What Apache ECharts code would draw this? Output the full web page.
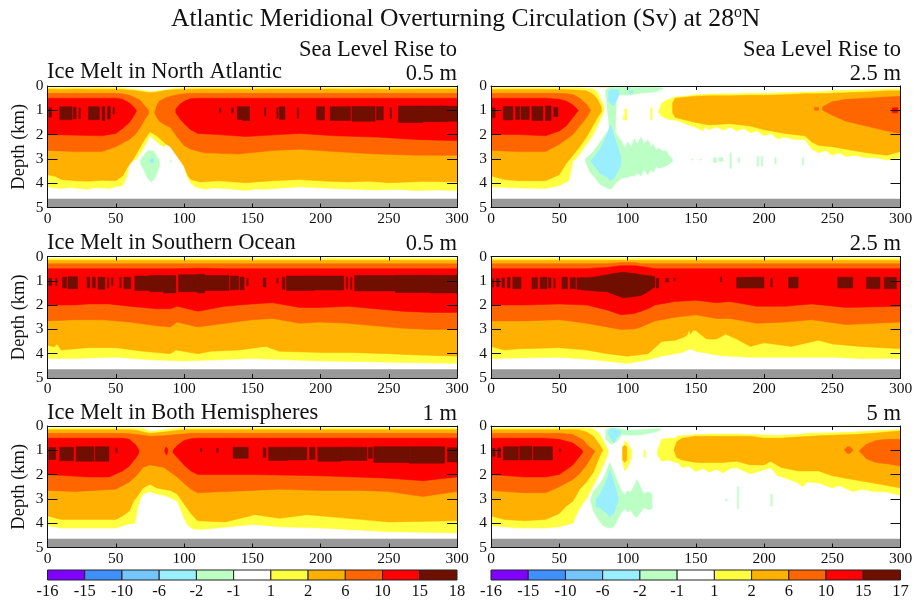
<!DOCTYPE html>
<html><head><meta charset="utf-8">
<style>html,body{margin:0;padding:0;background:#fff}#c{width:917px;height:601px}</style>
<script src="https://cdn.jsdelivr.net/npm/echarts@6/dist/echarts.min.js"></script>
</head><body><div id="c"></div>
<script>
// band colours, from colour-bar
const barColors=['#8000ff','#3f8fff','#73c6ff','#99eeff','#bbffc4','#ffffff','#ffff40','#ffb000','#ff6600','#ff0000','#700f00'];
const barLabelsL=['-16','-15','-10','-6','-2','-1','1','2','6','10','15','18'];
const barLabelsR=['-16','-15','-10','-6','-2','-1','1','2','6','10','15','17'];
const G1='#bbffc4',B2='#99eeff',Y1='#ffff40',O2='#ffb000',D6='#ff6600',R10='#ff0000',K15='#700f00';
const bottomBand=[[0,4.65,5],[300,4.65,5]];
// [x, top depth, bottom depth]
const a1=[[0,.07,4.15],[5,.07,4.2],[10,.07,4.22],[15,.06,4.18],[20,.06,4.2],[25,.07,4.23],[30,.07,4.24],[35,.06,4.19],[40,.06,4.2],[45,.07,4.22],[50,.07,4.15],[55,.08,4.1],[58,.1,3.75],[60,.12,3.2],[65,.14,3],[70,.18,2.6],[75,.23,2.05],[80,.2,2.3],[85,.16,2.5],[90,.12,2.3],[92,.1,2.6],[95,.09,2.8],[99,.08,3.05],[102,.07,3.7],[105,.07,4],[108,.06,4.15],[115,.06,4.25],[122,.06,4.2],[130,.06,4.22],[138,.06,4.26],[145,.07,4.3],[152,.06,4.24],[160,.06,4.25],[172,.06,4.2],[185,.06,4.15],[198,.06,4.19],[210,.07,4.22],[225,.06,4.25],[240,.06,4.28],[255,.06,4.26],[270,.06,4.3],[285,.06,4.28],[300,.06,4.3]];
const a2=[[0,.12,3.65],[6,.13,3.72],[10,.13,3.85],[15,.13,3.87],[20,.12,3.9],[30,.13,3.92],[40,.13,3.88],[50,.13,3.9],[55,.14,3.7],[58,.16,3.4],[63,.18,3],[65,.2,2.8],[70,.24,2.3],[75,.28,1.88],[80,.25,2.05],[87,.18,2.4],[90,.16,2.5],[95,.14,2.9],[100,.13,3.3],[103,.13,3.7],[105,.13,3.85],[112,.12,3.95],[125,.12,3.9],[145,.13,3.98],[165,.12,3.9],[185,.12,3.85],[205,.12,3.92],[220,.13,3.95],[235,.12,3.92],[250,.13,3.98],[275,.12,3.93],[300,.12,3.95]];
const a3=[[0,.3,2.65],[20,.3,2.7],[40,.3,2.7],[50,.3,2.5],[55,.32,2.35],[60,.38,2.2],[65,.5,1.95],[68,.6,1.7],[71,.8,1.4],[74,1,1.15]];
const a3b=[[78.5,1.1,1.1],[80,.8,1.3],[82,.62,1.45],[86,.5,1.6],[90,.42,1.7],[95,.36,2.1],[100,.32,2.45],[105,.3,2.6],[115,.3,2.75],[140,.3,2.8],[165,.3,2.65],[185,.3,2.6],[210,.3,2.7],[240,.3,2.8],[270,.3,2.85],[300,.3,2.85]];
const a4=[[0,.5,2],[40,.5,2.05],[50,.5,1.95],[55,.55,1.75],[60,.7,1.5],[63,.85,1.25],[65,1,1.05]];
const a4b=[[94,.95,1.1],[97,.75,1.35],[101,.6,1.6],[105,.52,1.8],[110,.5,1.95],[125,.5,2],[145,.5,2.08],[170,.5,2],[185,.5,1.95],[210,.5,2.05],[240,.5,2.1],[270,.5,2.2],[300,.5,2.25]];
const a5=[[1,3,.9,1.28],[9,18,.85,1.39],[19,21,.87,1.35],[23,24,.9,1.35],[30,38,.85,1.39],[40,42,.85,1.42],[44,46,.85,1.36],[48,49,.88,1.15],[126,127,.92,1.1],[135,136,.9,1.12],[139,143,.85,1.38],[143,148,.85,1.42],[159,160,.9,1.22],[168,169,.9,1.33],[170,174,.85,1.38],[183,184,.9,1.33],[197,203,.85,1.4],[207,222,.85,1.42],[223,240,.84,1.45],[241,246,.85,1.4],[251,252,.9,1.35],[257,275,.82,1.5],[275,293,.82,1.47],[293,300,.83,1.45]];
const aGreen=[[68,3.05,3.2],[70,2.9,3.4],[72,2.75,3.65],[74,2.65,3.85],[76,2.65,3.95],[78,2.7,3.85],[80,2.9,3.6],[82,3.05,3.3]];
const aBlue=[[75,3.05,3.1],[76,2.98,3.18],[78,3,3.15]];
const aSpeck=[[90,91,3.08,3.13]];

const b1=[[0,.07,4.15],[20,.07,4.2],[40,.07,4.22],[50,.07,4.1],[57,.07,3.9],[60,.07,3.1],[63,.07,2.95],[70,.1,2.4],[75,.12,2],[78,.25,1.65],[81,.6,1.3],[83,.9,1]];
const b2=[[0,.14,3.7],[10,.14,3.85],[20,.14,3.9],[40,.14,3.9],[50,.14,3.65],[55,.14,3.2],[60,.16,2.85],[65,.18,2.5],[70,.2,2.1],[75,.35,1.6],[78,.55,1.3],[81,.9,1.05]];
const b3=[[0,.3,2.65],[20,.3,2.7],[40,.3,2.7],[50,.3,2.4],[55,.32,2.2],[60,.35,2],[65,.5,1.65],[70,.75,1.3],[73,1,1]];
const b4=[[0,.5,2],[20,.5,2],[40,.5,2.05],[50,.55,1.85],[55,.62,1.65],[60,.78,1.3],[64,1,1]];
const b5=[[1,3,.9,1.3],[9,16,.84,1.4],[18,21,.85,1.38],[22,28,.85,1.38],[30,38,.84,1.42],[40,44,.82,1.42],[46,49,.87,1.25]];
const bTop1=[[75,0,.04],[90,0,.04]];
const bTop2=[[80,0,.03],[89,0,.03]];
const bR1=[[123,1,1.1],[125,.7,1.25],[130,.55,1.38],[135,.45,1.4],[140,.42,1.5],[145,.4,1.62],[150,.35,1.7],[155,.35,1.85],[157,.34,1.7],[160,.33,1.8],[165,.33,1.68],[170,.32,1.82],[175,.32,1.7],[180,.32,1.85],[185,.3,1.75],[190,.3,1.92],[195,.3,1.85],[200,.3,2.05],[205,.3,1.95],[210,.28,2.18],[215,.28,2.1],[222,.26,2.2],[230,.25,2.2],[235,.25,2.6],[240,.24,2.75],[245,.22,2.65],[250,.2,2.85],[255,.19,2.75],[260,.18,2.9],[266,.16,2.85],[275,.15,2.95],[282,.14,2.95],[290,.12,3.05],[300,.12,2.95]];
const bR2=[[133,.7,1.1],[135,.5,1.3],[150,.42,1.5],[160,.4,1.6],[175,.4,1.55],[190,.38,1.65],[200,.38,1.8],[215,.36,1.95],[230,.32,2.05],[235,.32,2.3],[240,.32,2.45],[250,.3,2.5],[260,.28,2.6],[275,.25,2.75],[290,.2,2.85],[300,.2,2.7]];
const bR3=[[243,.85,1],[250,.65,1.2],[260,.55,1.45],[275,.5,1.65],[290,.45,1.85],[300,.42,1.95]];
const bR3b=[[237,.88,1],[240,.88,1]];
const bR4=[[294,.9,1.1],[298,.9,1.1]];
const bBits=[[97,97.8,1.2,1.4],[98,99.5,.95,1.4],[117,118,.9,1.4]];
const bGreenTop=[[84,.15,.35],[87,.05,1.9],[91,.05,1.9],[92,.05,.35],[100,.05,.38],[110,.05,.3],[120,.05,.25],[126,.08,.12]];
const bBlueTop=[[86,.2,.6],[88,.15,.75],[90,.15,.8],[92,.15,.6],[94,.2,.35]];
const bBlueTop2=[[101,.2,.3],[104,.2,.3]];
const bGreenLow=[[69,3,3.1],[72,2.85,3.5],[75,2.7,3.7],[80,2.3,4.05],[85,1.9,4.2],[88,1.6,4.25],[92,2,3.95],[96,2.3,3.8],[98,2.55,3.75],[100,2.3,3.78],[103,2.5,3.68],[105,2.15,3.72],[107,2.4,3.58],[110,2.1,3.7],[112,2.4,3.45],[115,2.2,3.65],[117,2.5,3.45],[119,2.4,3.55],[121,2.65,3.3],[123,2.55,3.4],[126,2.7,3.32],[128,2.65,3.3],[131,2.9,3.2],[133,3,3.1]];
const bBlueLow=[[73,3.1,3.1],[75,2.95,3.25],[80,2.6,3.6],[85,2,3.75],[87.5,1.6,3.9],[90,2,3.8],[93,2.55,3.5],[95,2.9,3.3]];
const bStrips=[[147,148,3,3.05],[153,154,3,3.05],[163,165,2.95,3.15],[167,170,2.95,3.1],[175,176,2.75,3.4],[181,182,2.95,3.15],[195,196,2.9,3.3],[198,199,2.9,3.3],[208,209,2.95,3.2],[228,229,2.95,3.25]];

const c1=[[0,.07,4.2],[20,.07,4.2],[50,.07,4.15],[75,.07,4.25],[100,.07,4.3],[125,.07,4.25],[150,.07,4.2],[175,.07,4.25],[200,.07,4.3],[225,.07,4.32],[250,.07,4.35],[300,.07,4.4]];
const c2=[[0,.15,3.65],[5,.15,3.72],[7,.15,3.6],[10,.15,3.85],[20,.15,3.8],[30,.15,3.75],[50,.15,3.75],[70,.15,3.9],[90,.15,4],[94,.15,3.85],[110,.15,4],[120,.15,3.9],[140,.15,3.85],[160,.15,3.7],[170,.15,3.9],[200,.15,3.95],[220,.15,3.95],[250,.15,4],[270,.15,4.05],[300,.15,4.1]];
const c3=[[0,.3,2.65],[20,.3,2.6],[40,.3,2.6],[60,.3,2.7],[80,.3,2.85],[90,.3,2.9],[95,.3,2.7],[110,.3,2.9],[130,.3,2.75],[150,.3,2.6],[165,.3,2.55],[185,.3,2.75],[200,.3,2.7],[220,.3,2.75],[240,.3,2.85],[260,.3,2.95],[280,.3,3],[300,.3,3]];
const c4=[[0,.5,2],[20,.5,2],[30,.5,1.95],[45,.5,1.95],[60,.5,2.05],[80,.5,2.15],[90,.5,2.15],[95,.5,2.05],[110,.48,2.25],[130,.5,2.05],[150,.5,1.95],[165,.5,1.9],[185,.5,2.1],[200,.5,2.1],[220,.5,2.05],[240,.5,2.15],[260,.5,2.25],[280,.5,2.3],[300,.5,2.3]];
const c5=[[1,3,.9,1.2],[6,7,.9,1.2],[11,14,.85,1.3],[15,22,.83,1.33],[29,31,.85,1.3],[33,35,.85,1.3],[37,42,.85,1.35],[44,45,.88,1.3],[47,48,.88,1.2],[53,54,.85,1.3],[56,61,.85,1.33],[64,75,.8,1.4],[75,85,.78,1.45],[85,94,.78,1.5],[96,110,.75,1.45],[110,115,.73,1.5],[115,133,.78,1.4],[134,140,.8,1.37],[141,144,.85,1.37],[146,147,.9,1.2],[158,160,.88,1.25],[168,169,.9,1.1],[172,174,.85,1.35],[175,195,.8,1.4],[195,217,.8,1.38],[219,220,.85,1.35],[222,223,.85,1.35],[225,255,.78,1.42],[255,280,.77,1.48],[280,300,.77,1.5]];

const d1=[[0,.07,4.2],[50,.07,4.15],[75,.07,4.25],[100,.07,4.4],[115,.07,4.25],[125,.07,4.1],[140,.07,3.95],[146,.07,3.8],[150,.07,3.9],[165,.07,4.05],[175,.07,4.1],[190,.07,4.15],[210,.07,4.15],[250,.07,4.15],[270,.07,4.2],[300,.07,4.2]];
const d2=[[0,.15,3.7],[10,.15,3.85],[20,.15,3.8],[50,.15,3.75],[70,.15,3.85],[85,.15,4],[100,.15,4.1],[115,.15,4],[120,.15,3.75],[125,.15,3.5],[135,.15,3.45],[142,.15,3.3],[144,.15,3.2],[145,.15,3],[146,.15,3.2],[148,.15,3.05],[150,.15,3.05],[158,.15,3.4],[165,.15,3.4],[172,.15,3.2],[180,.15,3.4],[190,.15,3.7],[200,.15,3.55],[220,.15,3.7],[240,.15,3.45],[250,.15,3.6],[270,.15,3.7],[300,.15,3.8]];
const d3=[[0,.3,2.65],[25,.3,2.65],[50,.3,2.6],[70,.3,2.75],[85,.3,2.9],[95,.25,3],[105,.25,2.98],[110,.3,2.9],[120,.3,2.65],[135,.3,2.5],[150,.3,2.4],[165,.3,2.55],[175,.3,2.55],[195,.3,2.75],[215,.3,2.7],[235,.3,2.6],[260,.3,2.8],[300,.3,2.7]];
const d4=[[0,.5,2],[25,.5,2],[50,.5,1.95],[70,.5,2],[85,.45,2.2],[95,.38,2.4],[105,.38,2.35],[115,.45,2.15],[120,.5,2],[135,.5,1.85],[150,.5,1.8],[165,.5,1.9],[175,.5,1.85],[195,.5,2.05],[215,.5,2.05],[235,.5,1.95],[260,.5,2.1],[300,.5,2.05]];
const d5Main=[[63,.87,1.35],[75,.85,1.42],[85,.75,1.45],[92,.68,1.6],[97,.65,1.7],[105,.7,1.65],[110,.75,1.6],[115,.78,1.45],[120,.82,1.25]];
const d5=[[1,2,.92,1.25],[4,6,.9,1.25],[8,10,.88,1.28],[12,14,.85,1.3],[16,22,.85,1.33],[30,34,.87,1.33],[36,41,.85,1.33],[42,44,.87,1.3],[46,47,.9,1.3],[52,56,.85,1.33],[58,62,.87,1.33],[121,123,.9,1.3],[128,130,.9,1.05],[134,135,.9,1],[168,169,.85,1.05],[180,200,.85,1.3],[205,206,.9,1.25],[218,225,.85,1.3],[254,265,.85,1.3],[275,285,.85,1.33],[288,297,.85,1.33]];

const e1=[[0,.08,4.1],[10,.08,4.2],[30,.08,4.2],[50,.08,4.2],[58,.08,4.05],[64,.09,4],[66,.1,3.4],[68,.1,3],[70,.1,2.8],[75,.22,2.7],[80,.2,2.8],[85,.15,2.85],[90,.12,2.95],[95,.1,3.1],[98,.08,3.5],[100,.08,3.8],[103,.08,4.1],[107,.08,4.25],[115,.08,4.25],[150,.08,4.05],[170,.08,4.15],[200,.08,4.2],[250,.08,4.35],[300,.08,4.4]];
const e2=[[0,.15,3.7],[10,.15,3.85],[50,.15,3.85],[55,.15,3.7],[60,.15,3.5],[63,.16,3.1],[67,.2,2.8],[70,.25,2.55],[75,.3,2.4],[80,.28,2.55],[90,.22,2.65],[95,.18,2.8],[100,.15,3.2],[105,.15,3.6],[110,.15,3.9],[130,.15,3.95],[152,.15,3.65],[170,.15,3.8],[190,.15,3.65],[220,.15,3.8],[250,.15,3.95],[300,.15,3.9]];
const e3=[[0,.3,2.65],[20,.3,2.7],[50,.3,2.6],[60,.32,2.3],[65,.35,2.05],[70,.38,1.7],[75,.42,1.6],[85,.4,1.7],[95,.35,2.1],[105,.3,2.6],[110,.3,2.75],[130,.3,2.7],[150,.3,2.65],[170,.3,2.6],[200,.3,2.65],[230,.3,2.65],[250,.3,2.7],[275,.3,2.9],[300,.3,2.7]];
const e4=[[0,.5,2],[30,.5,2.1],[45,.5,2.1],[55,.5,1.85],[60,.55,1.65],[62,.65,1.5],[65,.8,1.3],[67,1,1.1]];
const e4b=[[92,1,1.1],[95,.8,1.3],[100,.6,1.6],[105,.52,1.85],[110,.5,2],[150,.5,2],[200,.5,2.05],[250,.5,2.15],[275,.5,2.25],[300,.5,2.1]];
const e4c=[[86,.95,1.05],[87,.85,1.2],[88,.95,1.1]];
const e5=[[1,6,.88,1.38],[9,19,.87,1.43],[21,34,.85,1.45],[35,45,.85,1.45],[50,51,.9,1.1],[112,113,.93,1.05],[124,125,.92,1.1],[136,147,.87,1.33],[158,160,.9,1.3],[162,176,.87,1.42],[176,190,.87,1.4],[192,196,.87,1.38],[198,215,.87,1.45],[215,234,.87,1.42],[235,238,.88,1.33],[239,265,.85,1.5],[265,291,.85,1.53],[293,300,.9,1.48]];

const f1=[[0,.08,4.1],[20,.08,4.2],[40,.08,4.2],[50,.08,4.15],[60,.08,4],[63,.08,3.6],[67,.08,3.2],[70,.09,3],[75,.12,2.45],[80,.35,1.9],[85,.9,1.25],[86,1,1]];
const f2=[[0,.15,3.7],[10,.15,3.85],[25,.15,3.9],[40,.15,3.85],[50,.15,3.6],[55,.15,3.3],[60,.15,3.1],[65,.16,2.6],[70,.25,2.3],[75,.42,1.9],[80,.8,1.2],[82,1,1]];
const f3=[[0,.3,2.65],[25,.3,2.75],[40,.3,2.75],[50,.3,2.5],[60,.35,2.2],[65,.5,1.95],[68,.6,1.75],[70,.75,1.6],[76,1.03,1.05]];
const f4=[[0,.5,2],[25,.5,2.1],[40,.5,2.1],[50,.55,2],[60,.7,1.6],[67,1,1.1]];
const f5=[[1,3,.92,1.25],[5,7,.9,1.3],[9,20,.85,1.4],[21,30,.83,1.4],[31,45,.85,1.4],[50,51,.95,1.05]];
const fTop=[[70,0,.04],[90,0,.04]];
const fGreenTop=[[84,.15,.55],[88,.08,.75],[92,.08,.65],[96,.12,.35],[100,.18,.38],[110,.15,.36],[118,.12,.28],[124,.1,.18]];
const fBlueTop=[[86,.2,.35],[88,.1,.55],[90,.1,.7],[92,.15,.5],[95,.2,.3]];
const fGreenLow=[[73,3,3.1],[75,2.7,3.5],[78,2.5,3.8],[82,2.2,4.1],[87,1.5,4.2],[90,1.9,4.15],[95,2.6,3.6],[98,2.85,3.4],[100,2.65,3.55],[102,2.75,3.45],[105,2.45,3.7],[107,2.2,3.75],[109,2.45,3.6],[112,2.8,3.35],[115,2.7,3.45],[118,2.8,3.4]];
const fBlueLow=[[77,3,3.3],[80,2.8,3.4],[85,2.2,3.6],[87,1.8,3.75],[90,2.3,3.6],[93,2.9,3.1]];
const fMidY=[[96,1,1.4],[98,.6,1.85],[100,.7,1.7],[103,1,1.3]];
const fMidO=[[96.5,.85,1.4],[98,.8,1.5],[99.5,.85,1.4]];
const fBitY=[[112,113,1,1.3]];
const fR1=[[122,1,1.2],[125,.55,1.45],[130,.5,1.4],[135,.5,1.5],[137,.4,1.5],[140,.4,1.72],[145,.38,1.65],[150,.35,1.88],[155,.35,1.75],[160,.33,1.9],[165,.33,1.78],[170,.33,1.93],[175,.33,1.75],[180,.33,1.72],[185,.34,1.85],[190,.35,1.97],[197,.36,1.85],[205,.38,1.72],[210,.38,2.05],[216,.37,2.15],[225,.35,2.35],[228,.33,2.5],[232,.3,2.3],[240,.29,2.35],[250,.28,2.55],[255,.27,2.45],[265,.25,2.7],[272,.23,2.6],[280,.2,2.7],[290,.17,2.72],[300,.15,2.85]];
const fR2=[[134,1,1],[136,.65,1.3],[140,.5,1.4],[150,.42,1.5],[170,.42,1.5],[180,.42,1.45],[190,.42,1.6],[200,.5,1.6],[205,.5,1.45],[212,.5,1.7],[225,.45,1.85],[240,.4,1.85],[250,.38,2.05],[265,.35,2.2],[280,.3,2.35],[300,.2,2.55]];
const fR3=[[270,1,1.05],[275,.75,1.35],[282,.6,1.5],[290,.55,1.55],[300,.55,1.65]];
const fR3b=[[259,.97,1],[261,.85,1.13],[263,.85,1.13],[265,.97,1]];
const fStrips=[[172,173,3,3.08],[180.5,181.5,2.5,3.4],[205,206,2.8,3.3]];

// panel text
const mainTitle='Atlantic Meridional Overturning Circulation (Sv) at 28';
const leftTitles=['Ice Melt in North Atlantic','Ice Melt in Southern Ocean','Ice Melt in Both Hemispheres'];
const leftRise=['0.5 m','0.5 m','1 m'];
const rightRise=['2.5 m','2.5 m','5 m'];
const riseHead='Sea Level Rise to';
const xTicks=[0,300,50];

const strips=(list,col)=>list.map(s=>[col,[[s[0],s[2],s[3]],[s[1],s[2],s[3]]]]);
const panels=[
 [[Y1,a1],[O2,a2],[D6,a3],[D6,a3b],[R10,a4],[R10,a4b],...strips(a5,K15),[G1,aGreen],[B2,aBlue],...strips(aSpeck,G1)],
 [[Y1,b1],[O2,b2],[D6,b3],[R10,b4],...strips(b5,K15),[Y1,bTop1],[O2,bTop2],[Y1,bR1],[O2,bR2],[D6,bR3],[D6,bR3b],[R10,bR4],...strips(bBits,Y1),[G1,bGreenTop],[B2,bBlueTop],[B2,bBlueTop2],[G1,bGreenLow],[B2,bBlueLow],...strips(bStrips,G1)],
 [[Y1,c1],[O2,c2],[D6,c3],[R10,c4],...strips(c5,K15)],
 [[Y1,d1],[O2,d2],[D6,d3],[R10,d4],[K15,d5Main],...strips(d5,K15)],
 [[Y1,e1],[O2,e2],[D6,e3],[R10,e4],[R10,e4b],[R10,e4c],...strips(e5,K15)],
 [[Y1,f1],[O2,f2],[D6,f3],[R10,f4],...strips(f5,K15),[Y1,fTop],[G1,fGreenTop],[B2,fBlueTop],[G1,fGreenLow],[B2,fBlueLow],[Y1,fMidY],[O2,fMidO],...strips(fBitY,Y1),[Y1,fR1],[O2,fR2],[D6,fR3],[D6,fR3b],...strips(fStrips,G1)]
];
const SERIF='"Liberation Serif","Times New Roman",serif';
const tops=[86,256.5,426],PH=121.5,lefts=[47.5,491],PW=[409.5,409.5];
const grids=[],xAxes=[],yAxes=[],series=[],titles=[];
const axFont={fontFamily:SERIF,fontSize:15.5,color:'#111'};
const line={lineStyle:{color:'#111',width:1}};
panels.forEach((shapes,i)=>{
  const r=Math.floor(i/2),c=i%2,g=grids.length;
  grids.push({left:lefts[c],top:tops[r],width:PW[c],height:PH});
  const xi=xAxes.length,yi=yAxes.length;
  xAxes.push({type:'value',gridIndex:g,min:xTicks[0],max:xTicks[1],interval:xTicks[2],position:'bottom',z:5,axisLine:{show:true,onZero:false,...line},axisTick:{show:true,inside:true,length:4,...line},axisLabel:{...axFont,margin:3,showMinLabel:true,showMaxLabel:true,hideOverlap:false},splitLine:{show:false}});
  xAxes.push({type:'value',gridIndex:g,min:xTicks[0],max:xTicks[1],interval:xTicks[2],position:'top',z:5,axisLine:{show:true,onZero:false,...line},axisTick:{show:true,inside:true,length:4,...line},axisLabel:{show:false},splitLine:{show:false}});
  yAxes.push({type:'value',gridIndex:g,min:0,max:5,interval:1,inverse:true,position:'left',z:5,axisLine:{show:true,onZero:false,...line},axisTick:{show:true,inside:true,length:10,...line},axisLabel:{...axFont,margin:4,showMinLabel:true,showMaxLabel:true,hideOverlap:false},splitLine:{show:false},
    ...(c===0?{name:'Depth (km)',nameLocation:'middle',nameGap:19,nameTextStyle:{fontFamily:SERIF,fontSize:18.5,color:'#111'}}:{})});
  yAxes.push({type:'value',gridIndex:g,min:0,max:5,interval:1,inverse:true,position:'right',z:5,axisLine:{show:true,onZero:false,...line},axisTick:{show:true,inside:true,length:10,...line},axisLabel:{show:false},splitLine:{show:false}});
  const all=[...shapes,['#999999',bottomBand]];
  series.push({type:'custom',xAxisIndex:xi,yAxisIndex:yi,clip:true,silent:true,coordinateSystem:'cartesian2d',
    data:all.map((s,k)=>[k]),
    renderItem:(params,api)=>{
      const s=all[api.value(0)],col=s[0],pts=s[1];
      const up=pts.map(p=>api.coord([p[0],p[1]]));
      const dn=pts.slice().reverse().map(p=>api.coord([p[0],p[2]]));
      return {type:'polygon',shape:{points:up.concat(dn)},style:{fill:col,stroke:col,lineWidth:0.5}};
    }});
});
// colour bars
[barLabelsL,barLabelsR].forEach((labs,c)=>{
  const g=grids.length;
  grids.push({left:lefts[c],top:570,width:PW[c],height:10});
  const xi=xAxes.length,yi=yAxes.length;
  xAxes.push({type:'value',gridIndex:g,min:0,max:barColors.length,interval:1,z:5,axisLine:{show:false},axisTick:{show:false},splitLine:{show:false},
    axisLabel:{...axFont,fontSize:16.5,margin:3,showMinLabel:true,showMaxLabel:true,hideOverlap:false,formatter:v=>labs[v]}});
  yAxes.push({type:'value',gridIndex:g,min:0,max:1,show:false});
  series.push({type:'custom',xAxisIndex:xi,yAxisIndex:yi,silent:true,data:barColors.map((b,k)=>[k]),
    renderItem:(params,api)=>{
      const k=api.value(0),a=api.coord([k,1]),b=api.coord([k+1,0]);
      return {type:'rect',shape:{x:a[0],y:a[1],width:b[0]-a[0],height:b[1]-a[1]},style:{fill:barColors[k],stroke:'#222',lineWidth:1}};
    }});
});
// texts
const T=(text,pos,size)=>titles.push({text,...pos,padding:0,itemGap:0,textStyle:{fontFamily:SERIF,fontWeight:'normal',fontSize:size,color:'#111',lineHeight:size+2,rich:{s:{fontFamily:SERIF,fontSize:size*0.62,verticalAlign:'top',lineHeight:size+2,color:'#111',padding:[0,0,9,0]},n:{fontFamily:SERIF,fontSize:size,color:'#111',lineHeight:size+2}}}});
T('{n|'+mainTitle+'}{s|o}{n|N}',{left:171,top:5},25.6);
T(riseHead,{right:460,top:38},22.5);
T(riseHead,{right:16,top:38},22.5);
const rowTextTop=[60,230.5,400.5],riseTop=[61.5,232,402];
leftTitles.forEach((t,r)=>{
  T(t,{left:47,top:rowTextTop[r]},22.5);
  T(leftRise[r],{right:460,top:riseTop[r]},22.5);
  T(rightRise[r],{right:16,top:riseTop[r]},22.5);
});
const chart=echarts.init(document.getElementById('c'),null,{renderer:'canvas'});
chart.setOption({animation:false,backgroundColor:'#fff',title:titles,grid:grids,xAxis:xAxes,yAxis:yAxes,series});
</script></body></html>
